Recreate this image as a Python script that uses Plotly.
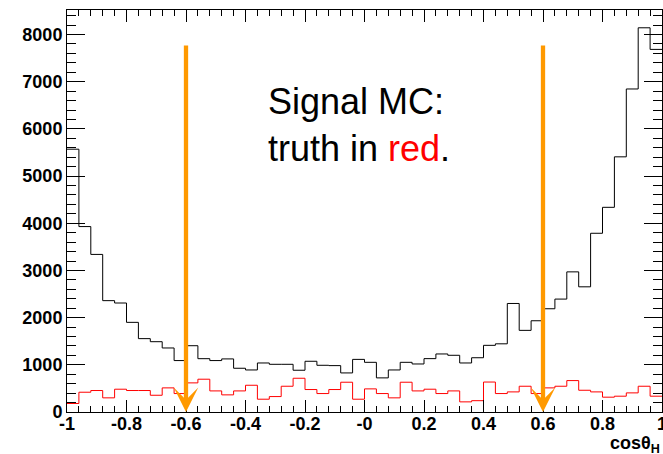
import plotly.graph_objects as go

# ---- data ----
bin_edges = [round(-1 + 0.04 * i, 2) for i in range(51)]
reco_counts = [5570, 3930, 3340, 2360, 2310, 1900, 1555, 1490, 1357, 1090,
               1405, 1130, 1090, 1125, 927, 891, 1039, 1011, 1011, 885,
               1075, 990, 983, 828, 1115, 1053, 723, 891, 1053, 1018,
               1131, 1230, 1202, 1039, 1150, 1413, 1445, 2300, 1730, 1934,
               2188, 2393, 2970, 2653, 3788, 4338, 5408, 6846, 8143, 7685]
truth_counts = [180, 419, 455, 300, 483, 455, 455, 355, 511, 391,
                617, 695, 447, 363, 447, 567, 271, 327, 546, 715,
                476, 391, 476, 631, 271, 490, 391, 300, 631, 447,
                483, 391, 447, 215, 240, 635, 391, 426, 546, 391,
                511, 546, 666, 461, 426, 314, 335, 405, 546, 335]
cut_values = [-0.6, 0.6]
arrow_top = 7800
x_tick_vals = [-1, -0.8, -0.6, -0.4, -0.2, 0, 0.2, 0.4, 0.6, 0.8, 1]
x_tick_text = ["-1", "-0.8", "-0.6", "-0.4", "-0.2", "-0", "0.2", "0.4", "0.6", "0.8", "1"]
y_tick_vals = [0, 1000, 2000, 3000, 4000, 5000, 6000, 7000, 8000]

FONT = "Liberation Sans, Arial, Helvetica, sans-serif"
ORANGE = "#ff9900"

fig = go.Figure()
fig.add_trace(go.Scatter(x=bin_edges, y=reco_counts + [reco_counts[-1]],
                         mode="lines", line=dict(shape="hv", color="black", width=1),
                         showlegend=False, hoverinfo="skip"))
fig.add_trace(go.Scatter(x=bin_edges, y=truth_counts + [truth_counts[-1]],
                         mode="lines", line=dict(shape="hv", color="red", width=1),
                         showlegend=False, hoverinfo="skip"))

for c in cut_values:
    fig.add_annotation(x=c, y=0, ax=c, ay=arrow_top, xref="x", yref="y",
                       axref="x", ayref="y", text="", showarrow=True,
                       arrowhead=3, arrowsize=0.95, arrowwidth=4.3, arrowcolor=ORANGE,
                       standoff=0)

fig.add_annotation(x=-0.33, y=6080, xref="x", yref="y", xanchor="left", yanchor="middle",
                   align="left", showarrow=False,
                   text="Signal MC:<br>truth in <span style='color:red'>red</span>.",
                   font=dict(family=FONT, size=36, color="black"))

fig.add_annotation(x=1, y=0, xref="paper", yref="paper", xanchor="right", yanchor="middle",
                   yshift=-32, xshift=0, showarrow=False, text="cosθ<sub>H</sub>",
                   font=dict(family=FONT, size=18, color="black", weight="bold"))

fig.update_xaxes(range=[-1, 1], tickvals=x_tick_vals, ticktext=x_tick_text,
                 ticks="inside", ticklen=12, tickwidth=1, tickcolor="black",
                 minor=dict(ticks="inside", ticklen=6, dtick=0.04, tick0=-1, tickcolor="black", showgrid=False),
                 showline=True, linecolor="black", linewidth=1, mirror="ticks",
                 showgrid=False, zeroline=False, ticklabeloverflow="allow",
                 ticklabelstandoff=-5, automargin=False,
                 tickfont=dict(family=FONT, size=18, color="black", weight="bold"))
fig.update_yaxes(range=[0, 8520], tickvals=y_tick_vals,
                 ticks="inside", ticklen=18, tickwidth=1, tickcolor="black",
                 minor=dict(ticks="inside", ticklen=9, dtick=200, tick0=0, tickcolor="black", showgrid=False),
                 showline=True, linecolor="black", linewidth=1, mirror="ticks",
                 showgrid=False, zeroline=False, automargin=False,
                 tickfont=dict(family=FONT, size=18, color="black", weight="bold"))

fig.update_layout(width=663, height=454, margin=dict(l=67, r=1, t=10, b=42),
                  paper_bgcolor="white", plot_bgcolor="white", showlegend=False)

fig.write_html("out.html")
